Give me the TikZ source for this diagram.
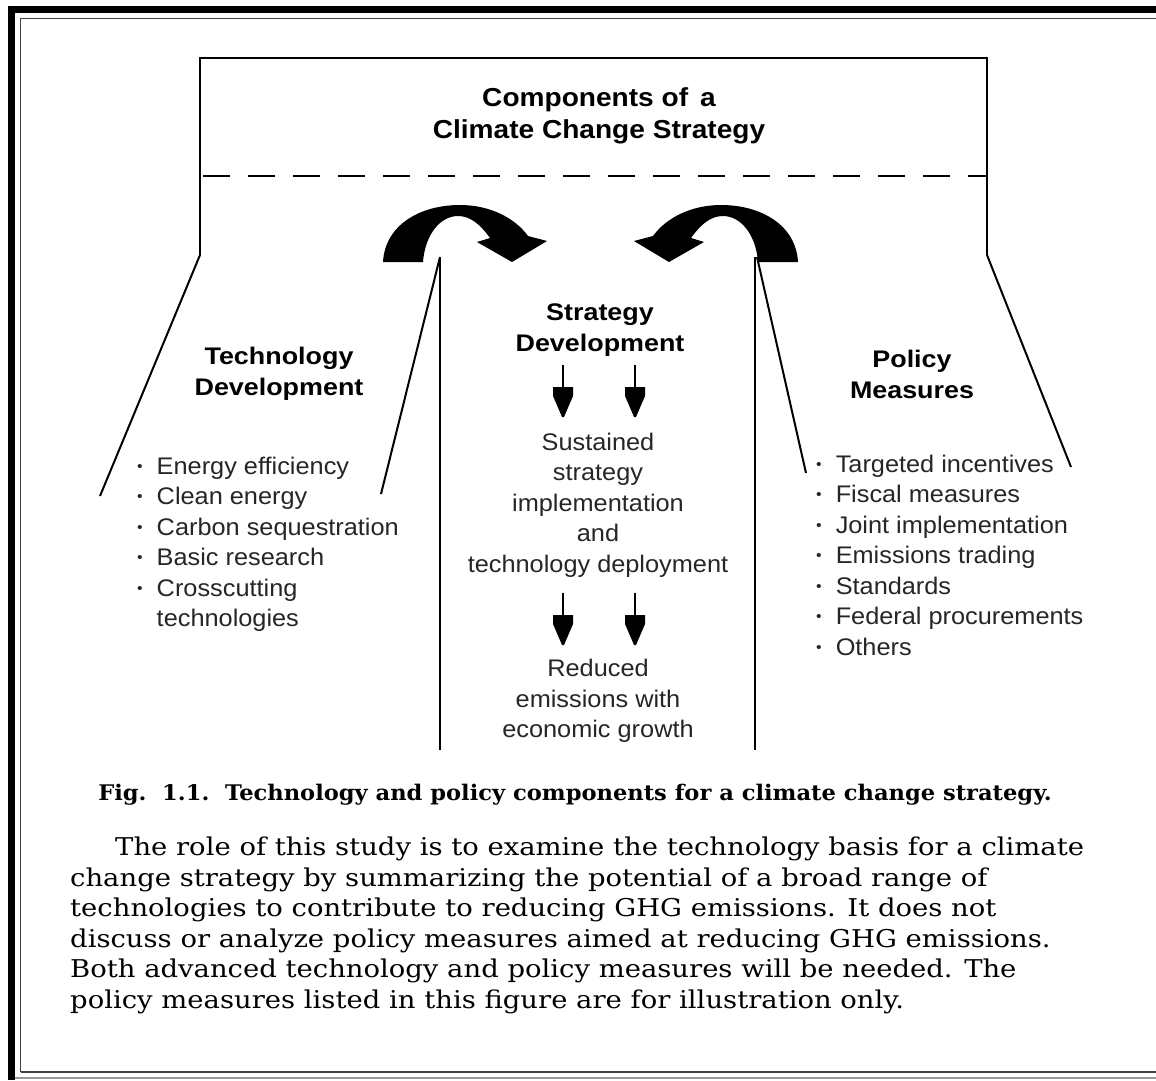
\documentclass[tikz,border=0pt]{standalone}
\usepackage{fontspec}
\setmainfont{DejaVu Serif}
\newfontfamily\bookf[FakeStretch=1.12]{DejaVu Serif}
\newfontfamily\capf[FakeStretch=1.05]{DejaVu Serif}
\newfontfamily\arialf[FakeStretch=1.055]{Liberation Sans}
\newfontfamily\hdrf[FakeStretch=1.12]{Liberation Sans}
\newfontfamily\titlef[FakeStretch=1.08]{Liberation Sans}
\begin{document}
\begin{tikzpicture}[x=1pt,y=-1pt,
  figline/.style={line width=2pt, black},
  toptext/.style={font=\titlef\bfseries\fontsize{26}{32}\selectfont, align=center, inner sep=0pt},
  headtext/.style={font=\hdrf\bfseries\fontsize{24}{31}\selectfont, align=center, inner sep=0pt},
  bodytext/.style={font=\arialf\fontsize{24}{30.5}\selectfont, align=center, inner sep=0pt, text=black!85},
  listtext/.style={font=\arialf\fontsize{24}{30.5}\selectfont, inner sep=0pt, text=black!85},
  curvedarrow/.pic={
    \fill[black] (383,262) .. controls (385,225) and (420,205) .. (460,205)
      .. controls (490,205) and (515,218) .. (528,236) -- (547,241) -- (512,262)
      -- (477,242) -- (490,238) .. controls (480,224) and (470,216) .. (458,216)
      .. controls (440,216) and (425,235) .. (423,262) -- cycle;
  },
  downarrow/.pic={
    \draw[line width=2.5pt] (0,0) -- (0,23);
    \fill[black] (-10,22) -- (10,22) -- (10,31) -- (1,52) -- (-1,52) -- (-10,31) -- cycle;
  }
]
\newcommand{\bul}{\raisebox{3pt}{\fontsize{15}{15}\selectfont\textbullet}}
\useasboundingbox (0,0) rectangle (1156,1080);
\fill[white] (0,0) rectangle (1156,1080);

% page frame
\fill[black] (8,6) rectangle (15,1080);
\fill[black] (8,6) rectangle (1156,12.5);
\draw[line width=1.5pt, black!75] (20.5,1072) -- (20.5,18.5) -- (1156,18.5);
\draw[line width=1.5pt, black!75] (20.5,1072) -- (1156,1072);
\draw[line width=2pt, black!40] (15,1077.5) -- (1156,1077.5);

% header box
\draw[line width=2.8pt] (200,255) -- (200,58) -- (987,58) -- (987,255);
\draw[line width=2.5pt, dash pattern=on 27pt off 18pt] (203,176) -- (987,176);
\node[toptext] (title) at (599,116) {Components of\hspace{12pt}a\\Climate Change Strategy};

% side panels
\draw[figline] (200,255) -- (100,496);
\draw[figline] (440,257) -- (381,494);
\draw[figline] (440,257) -- (440,750);
\draw[figline] (987,255) -- (1071,467);
\draw[figline] (757,257) -- (806,473);
\draw[figline] (755,257) -- (755,750);

% curved arrows
\pic at (0,0) {curvedarrow};
\pic[xscale=-1] at (1181,0) {curvedarrow};

% left column
\node[headtext] (techhead) at (279,374) {Technology\\Development};
\node[listtext, anchor=base west] (techlist) at (137,474) {\begin{tabular}[t]{@{}l@{\hspace{14pt}}l@{}}
\bul & Energy efficiency\\
\bul & Clean energy\\
\bul & Carbon sequestration\\
\bul & Basic research\\
\bul & Crosscutting\\
 & technologies
\end{tabular}};

% centre column
\node[headtext] (strathead) at (600,330) {Strategy\\Development};
\pic at (563,365) {downarrow};
\pic at (635,365) {downarrow};
\node[bodytext] (sustain) at (598,505) {Sustained\\strategy\\implementation\\and\\technology deployment};
\pic at (563,593) {downarrow};
\pic at (635,593) {downarrow};
\node[bodytext] (reduced) at (598,701) {Reduced\\emissions with\\economic growth};

% right column
\node[headtext] (polhead) at (912,374) {Policy\\Measures};
\node[listtext, anchor=base west] (pollist) at (816,472) {\begin{tabular}[t]{@{}l@{\hspace{14pt}}l@{}}
\bul & Targeted incentives\\
\bul & Fiscal measures\\
\bul & Joint implementation\\
\bul & Emissions trading\\
\bul & Standards\\
\bul & Federal procurements\\
\bul & Others
\end{tabular}};

% caption and text
\node[font=\capf\bfseries\fontsize{21.5}{24}\selectfont, inner sep=0pt] (caption) at (575,795) {Fig.~~1.1.~~Technology and policy components for a climate change strategy.};
\node[font=\bookf\fontsize{24.5}{30.5}\selectfont, align=left, inner sep=0pt, anchor=base west] (para) at (70,1008) {\hspace*{45pt}The role of this study is to examine the technology basis for a climate\\
change strategy by summarizing the potential of a broad range of\\
technologies to contribute to reducing GHG emissions. It does not\\
discuss or analyze policy measures aimed at reducing GHG emissions.\\
Both advanced technology and policy measures will be needed. The\\
policy measures listed in this figure are for illustration only.};
\end{tikzpicture}
\end{document}
